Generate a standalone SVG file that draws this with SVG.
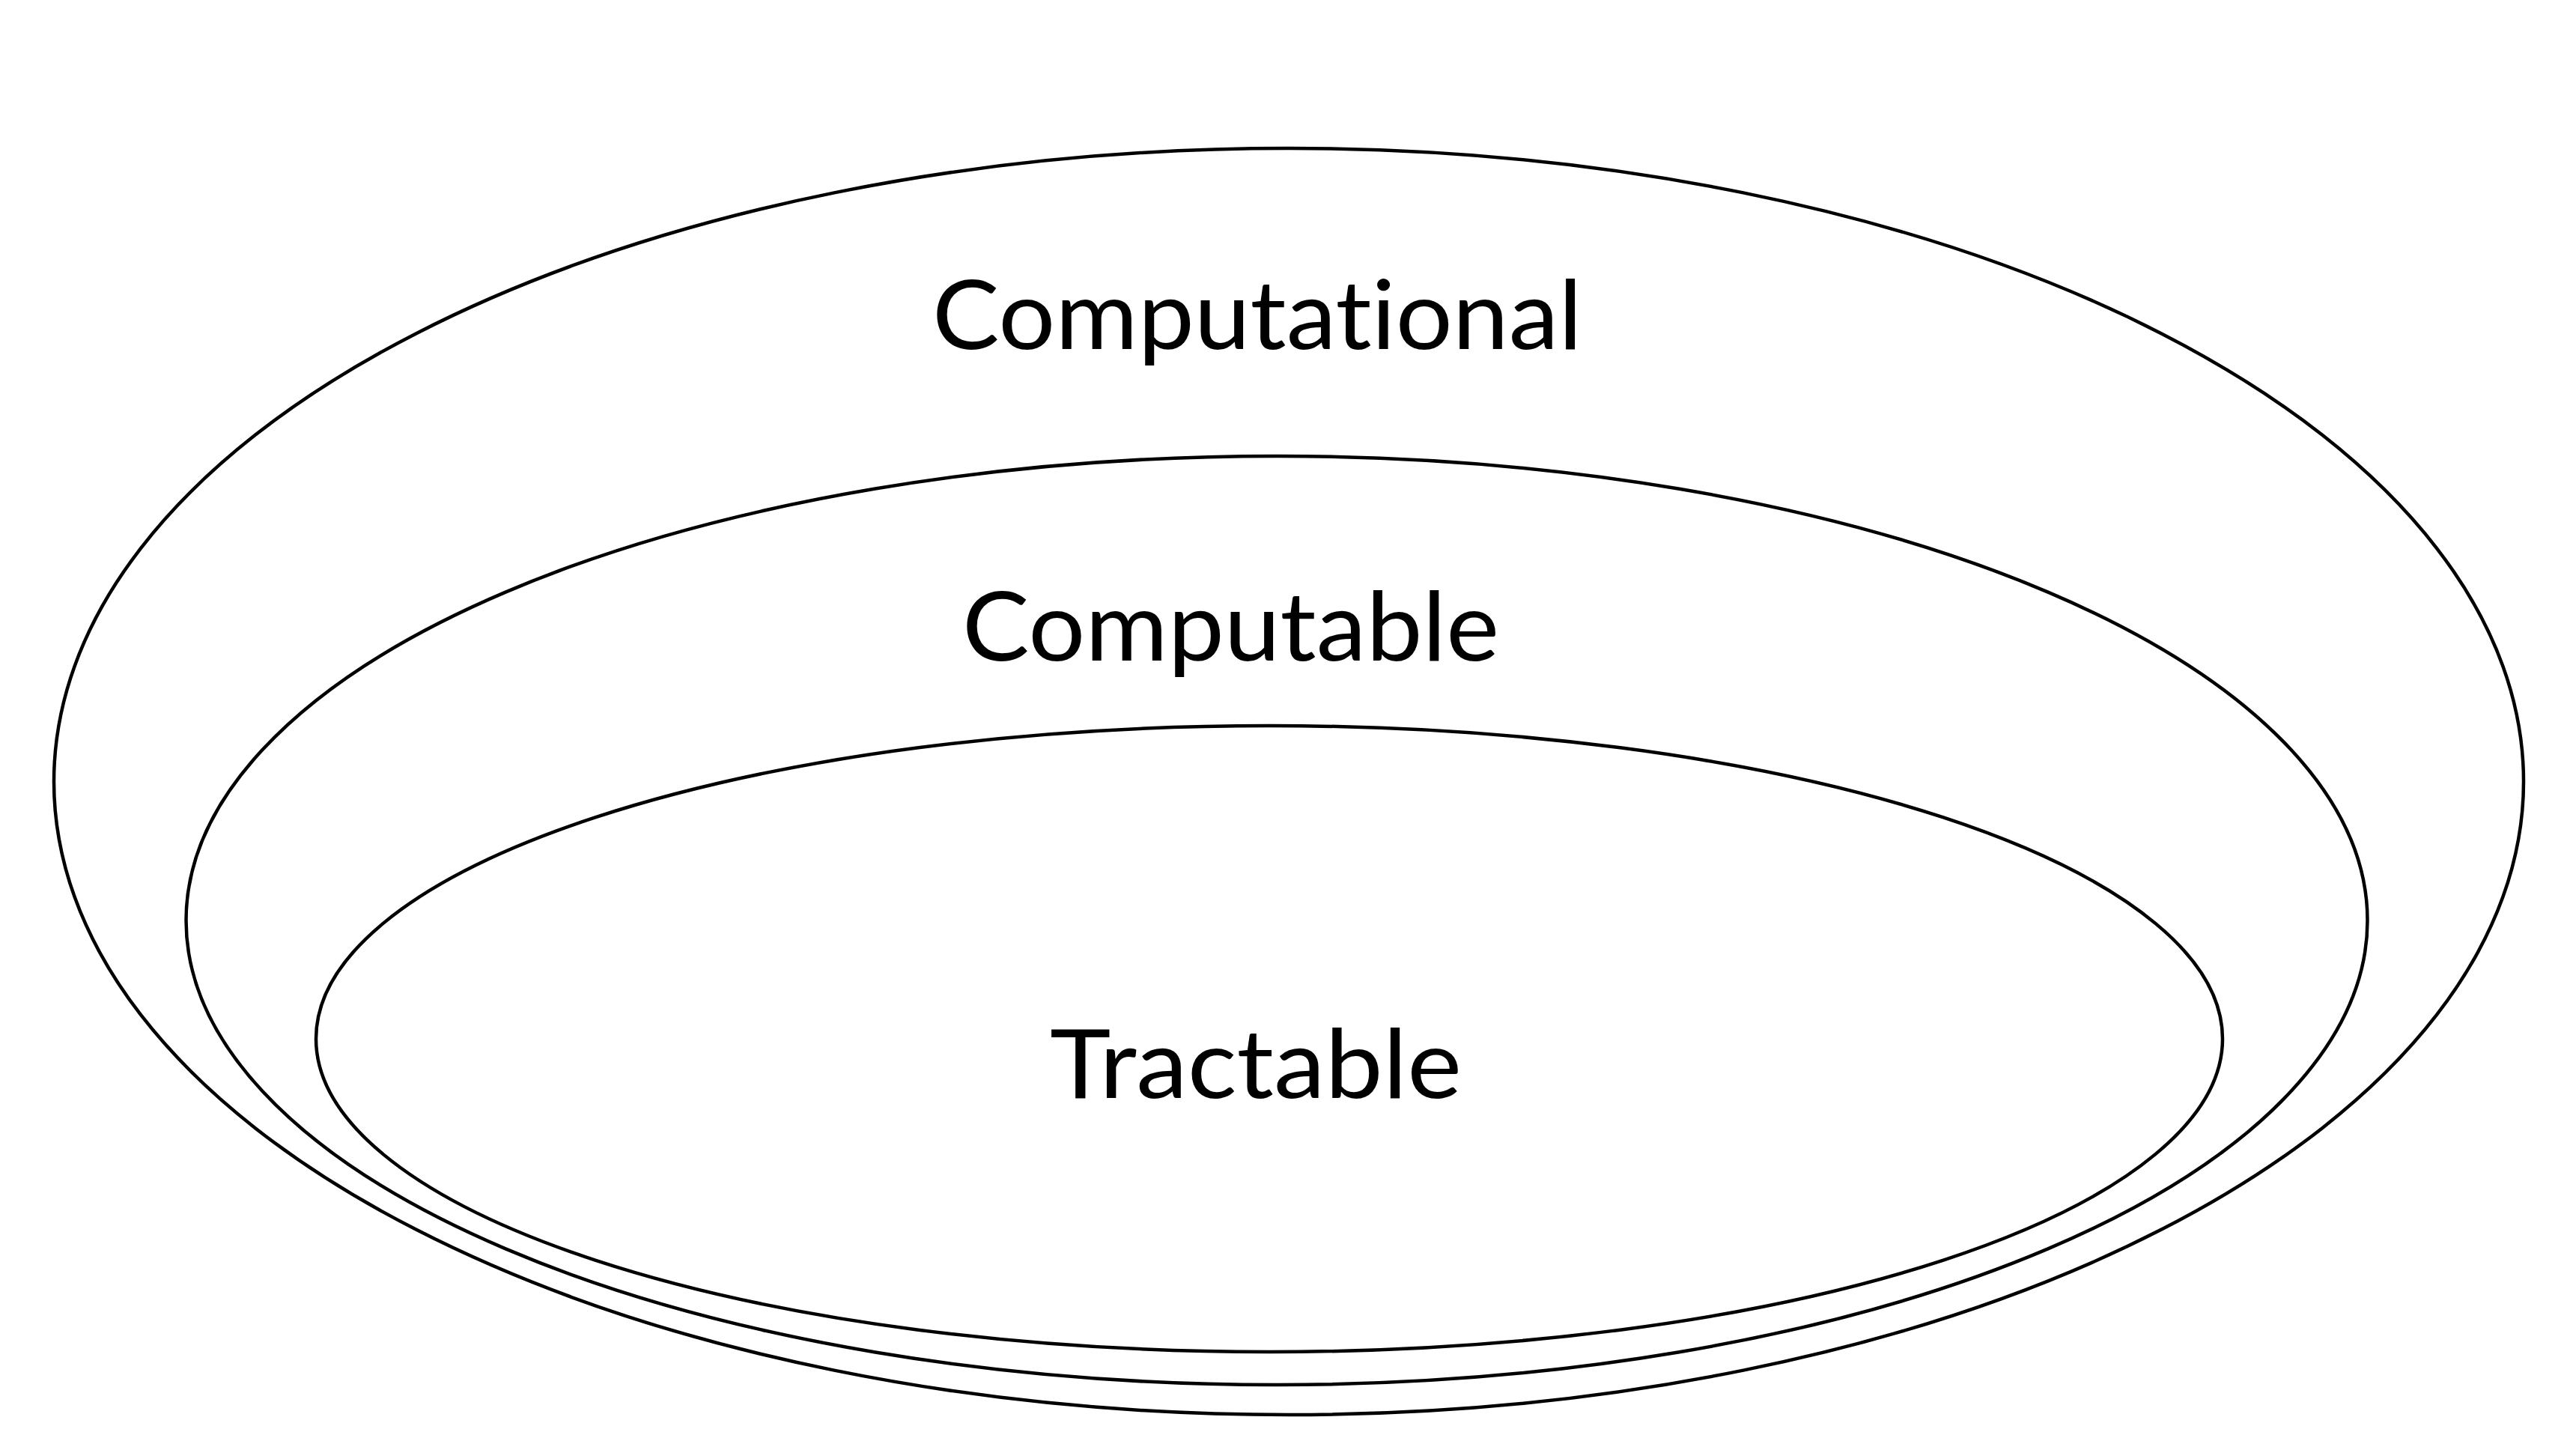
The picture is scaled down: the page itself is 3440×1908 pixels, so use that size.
<svg xmlns="http://www.w3.org/2000/svg" width="3440" height="1908" viewBox="0 0 3440 1908">
<style>
.set{fill:none;stroke:#000;stroke-width:4.5}
.lbl{font-family:Lato,"Open Sans","Liberation Sans",sans-serif;font-size:128px;fill:#000;font-variant-ligatures:none;font-feature-settings:"liga" 0,"clig" 0,"dlig" 0}
</style>
<rect width="3440" height="1908" fill="#fff"/>
<g id="computational">
<ellipse class="set" cx="1721" cy="1043.5" rx="1649" ry="845.5"/>
<text class="lbl" x="1245" y="466" textLength="868" lengthAdjust="spacingAndGlyphs">Computational</text>
</g>
<g id="computable">
<ellipse class="set" cx="1705" cy="1229" rx="1456.5" ry="620"/>
<text class="lbl" x="1285" y="882" textLength="717" lengthAdjust="spacingAndGlyphs">Computable</text>
</g>
<g id="tractable">
<ellipse class="set" cx="1695" cy="1387" rx="1273" ry="418"/>
<text class="lbl" x="1402" y="1466" textLength="550" lengthAdjust="spacingAndGlyphs">Tractable</text>
</g>
<g id="connectors"/>
</svg>
